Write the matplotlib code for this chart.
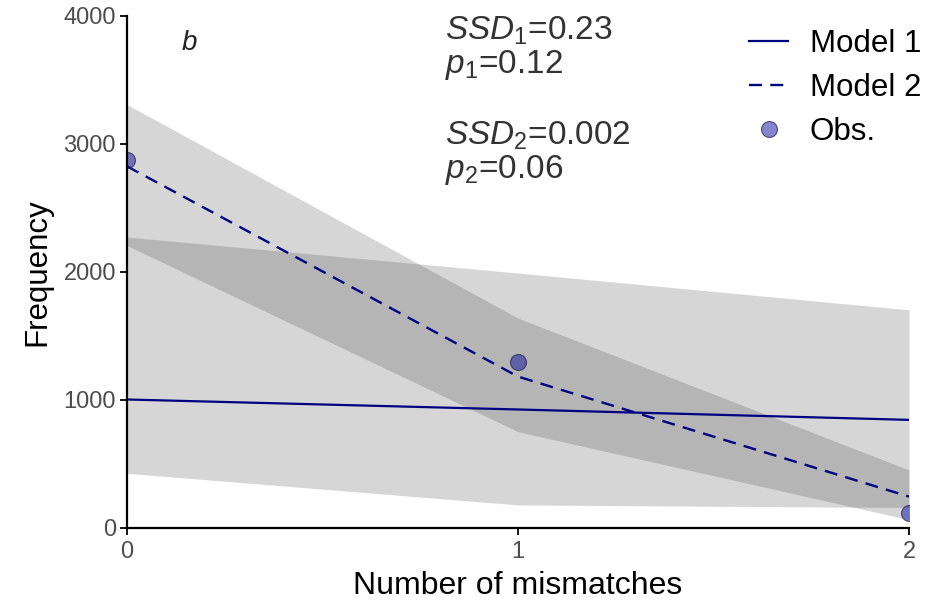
import numpy as np
import matplotlib
matplotlib.use("Agg")
from matplotlib import pyplot as plt

plt.rcParams['font.family'] = ['Liberation Sans', 'DejaVu Sans']
plt.rcParams['mathtext.fontset'] = 'custom'
plt.rcParams['mathtext.rm'] = 'Liberation Sans'
plt.rcParams['mathtext.it'] = 'Liberation Sans:italic'

# data
mismatches = [0, 1, 2]
obs = [2870, 1292, 115]
model1 = [1003, 925, 844]
model1_lo = [427, 180, 160]
model1_hi = [2271, 1990, 1703]
model2 = [2823, 1182, 245]
model2_lo = [2205, 752, 65]
model2_hi = [3305, 1638, 453]

fig = plt.figure(figsize=(9.3, 6.02), dpi=100)
ax = fig.add_axes([127/930, 1-528/602, (909-127)/930, (528-15.5)/602])

ax.fill_between(mismatches, model1_lo, model1_hi, color='#333333', alpha=0.2, lw=0)
ax.fill_between(mismatches, model2_lo, model2_hi, color='#333333', alpha=0.2, lw=0)
ax.plot(mismatches, model1, color='#000080', lw=1.6, label='Model 1')
ax.plot(mismatches, model2, color='#000080', lw=1.7, ls=(0, (5.5, 3.5)), label='Model 2')
ax.plot(mismatches, obs, 'o', ms=11.5, mfc=(0.05, 0.05, 0.62, 0.5), mec=(0.1, 0.1, 0.35, 0.7),
        mew=0.8, ls='none', label='Obs.')

ax.set_xlim(0, 2)
ax.set_ylim(0, 4000)
ax.set_xticks([0, 1, 2])
ax.set_yticks([0, 1000, 2000, 3000, 4000])
for s in ['top', 'right']:
    ax.spines[s].set_visible(False)
for s in ['left', 'bottom']:
    ax.spines[s].set_linewidth(1.6)
ax.tick_params(direction='out', length=5, width=1.3, labelsize=17, labelcolor='#4d4d4d', pad=3)
ax.tick_params(axis='x', pad=4)
ax.set_xlabel("Number of mismatches", fontsize=23, labelpad=6)
ax.set_ylabel("Frequency", fontsize=22.5, labelpad=8)

ax.text(0.14, 3730, 'b', fontsize=20, style='italic', color='#222222')
ax.text(0.813, 3812, r'$SSD_1$=0.23', fontsize=24, color='#333333')
ax.text(0.813, 3550, r'$p_1$=0.12', fontsize=24, color='#333333')
ax.text(0.813, 2990, r'$SSD_2$=0.002', fontsize=24, color='#333333')
ax.text(0.813, 2730, r'$p_2$=0.06', fontsize=24, color='#333333')

ax.legend(loc='upper left', bbox_to_anchor=(749/930, 1-29/602), bbox_transform=fig.transFigure,
          frameon=False, fontsize=22.5, handlelength=1.25, handletextpad=0.7, labelspacing=0.45,
          borderpad=0, borderaxespad=0)

fig.savefig('out.png', dpi=100)
